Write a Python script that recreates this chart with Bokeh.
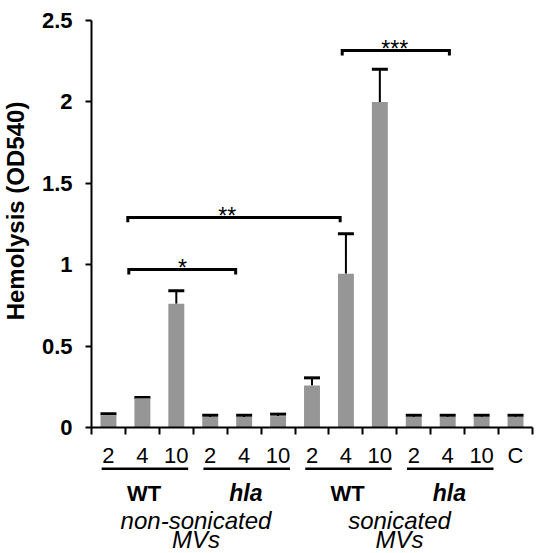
import math
from bokeh.plotting import figure
from bokeh.models import Range1d, LinearAxis, FixedTicker, Whisker, TeeHead, ColumnDataSource
from bokeh.core.properties import value
from bokeh.embed import file_html
from bokeh.resources import INLINE

# ---------------- data ----------------
dose_labels = ["2", "4", "10", "2", "4", "10", "2", "4", "10", "2", "4", "10", "C"]
hemolysis = [0.075, 0.18, 0.76, 0.065, 0.065, 0.07, 0.258, 0.945, 2.0, 0.065, 0.065, 0.065, 0.065]
error = [0.01, 0.005, 0.08, 0.01, 0.01, 0.012, 0.047, 0.245, 0.2, 0.01, 0.01, 0.01, 0.01]
y_ticks = [0, 0.5, 1, 1.5, 2, 2.5]
y_tick_labels = ["0", "0.5", "1", "1.5", "2", "2.5"]
y_title = "Hemolysis (OD540)"
group_names = ["WT", "hla", "WT", "hla"]
group_first = [0, 3, 6, 9]
group_last = [2, 5, 8, 11]
treatment_names = ["non-sonicated", "sonicated"]
treatment_first = [0, 6]
treatment_last = [5, 11]
sig_x0 = [1.1, 1.07, 7.39]
sig_x1 = [4.25, 7.33, 10.55]
sig_y = [0.97, 1.29, 2.315]
sig_label_x = [2.68, 4.0, 8.94]
sig_text = ["*", "**", "***"]

FONT = "Liberation Sans"
BAR = "#969696"
W, H = 542, 553
LEFT, TOP, FRAME_W = 91, 20, 441       # pixel position of the plotting area
PX_PER_UNIT = 162.8                    # pixels per y unit
n = len(hemolysis)
PX_PER_CAT = FRAME_W / n
X0 = -LEFT / PX_PER_CAT
X1 = n + (W - LEFT - FRAME_W) / PX_PER_CAT
Y1 = 2.5 + TOP / PX_PER_UNIT
Y0 = Y1 - H / PX_PER_UNIT

xs = [i + 0.5 for i in range(n)]
src = ColumnDataSource(dict(x=xs, top=hemolysis, upper=[h + e for h, e in zip(hemolysis, error)]))

p = figure(width=W, height=H, x_range=Range1d(X0, X1), y_range=Range1d(Y0, Y1),
           output_backend="svg", toolbar_location=None,
           x_axis_location=None, y_axis_location=None,
           min_border_left=0, min_border_right=0, min_border_top=0, min_border_bottom=0)
p.outline_line_color = None
p.grid.visible = False

# y axis (drawn at x = 0)
yaxis = LinearAxis(fixed_location=0, bounds=(0, 2.5), ticker=FixedTicker(ticks=y_ticks),
                   major_label_overrides={t: l for t, l in zip(y_ticks, y_tick_labels)},
                   major_label_text_font=FONT, major_label_text_font_style="bold",
                   major_label_text_font_size="22px", major_label_standoff=13,
                   major_label_text_color="black",
                   major_tick_out=6, major_tick_in=0, minor_tick_line_color=None,
                   axis_line_width=2, major_tick_line_width=2)
p.add_layout(yaxis, "left")
p.text(x=[-(LEFT - 15) / PX_PER_CAT], y=[1.33], text=[y_title], angle=math.pi / 2,
       text_align="center", text_baseline="middle", text_font=value(FONT),
       text_font_style="bold", text_font_size="24px", text_color="black")

# x axis: boundary ticks (drawn at y = 0)
xaxis_ticks = LinearAxis(fixed_location=0, bounds=(0, n), ticker=FixedTicker(ticks=list(range(n + 1))),
                         major_tick_out=7, major_tick_in=0, minor_tick_line_color=None,
                         major_label_text_color=None, axis_line_width=2, major_tick_line_width=2)
p.add_layout(xaxis_ticks, "below")
# x axis: category labels
xaxis_labels = LinearAxis(fixed_location=0, bounds=(0, n), ticker=FixedTicker(ticks=xs),
                          major_label_overrides={x: l for x, l in zip(xs, dose_labels)},
                          major_tick_out=0, major_tick_in=0, minor_tick_line_color=None,
                          axis_line_color=None, major_label_standoff=15,
                          major_label_text_font=FONT, major_label_text_font_size="22px",
                          major_label_text_color="black")
p.add_layout(xaxis_labels, "below")

# bars and error bars
p.vbar(x="x", top="top", width=0.47, source=src, fill_color=BAR, line_color=None)
p.add_layout(Whisker(base="x", lower="top", upper="upper", source=src, dimension="height",
                     line_width=2, line_color="black", lower_head=None,
                     upper_head=TeeHead(size=16, line_width=3, line_color="black")))

# significance brackets
d = 0.03
p.multi_line(xs=[[a, a, b, b] for a, b in zip(sig_x0, sig_x1)],
             ys=[[y - d, y, y, y - d] for y in sig_y],
             line_width=3, line_color="black", line_join="miter")
p.text(x=sig_label_x, y=[y + 0.012 for y in sig_y], text=sig_text,
       text_align="center", text_baseline="alphabetic", text_font=value(FONT),
       text_font_size="23px", text_color="black")

# group annotations below axis
p.segment(x0=[f + 0.3 for f in group_first], x1=[l + 0.85 for l in group_last],
          y0=[-0.254] * 4, y1=[-0.254] * 4, line_width=2.5, line_color="black")
wt_idx = [i for i, g in enumerate(group_names) if g == "WT"]
hla_idx = [i for i, g in enumerate(group_names) if g != "WT"]
p.text(x=[(group_first[i] + group_last[i]) / 2 + 0.55 for i in wt_idx], y=[-0.405] * len(wt_idx),
       text=[group_names[i] for i in wt_idx], text_align="center", text_baseline="alphabetic",
       text_font=value(FONT), text_font_style="bold", text_font_size="22px", text_color="black")
p.text(x=[(group_first[i] + group_last[i]) / 2 + 0.55 for i in hla_idx], y=[-0.405] * len(hla_idx),
       text=[group_names[i] for i in hla_idx], text_align="center", text_baseline="alphabetic",
       text_font=value(FONT), text_font_style="bold italic", text_font_size="23px", text_color="black")
tx = [(f + l) / 2 + 0.58 for f, l in zip(treatment_first, treatment_last)]
p.text(x=tx, y=[-0.57] * 2, text=treatment_names, text_align="center", text_baseline="alphabetic",
       text_font=value(FONT), text_font_style="italic", text_font_size="24px", text_color="black")
p.text(x=tx, y=[-0.69] * 2, text=["MVs", "MVs"], text_align="center", text_baseline="alphabetic",
       text_font=value(FONT), text_font_style="italic", text_font_size="24px", text_color="black")

open("out.html", "w").write(file_html(p, INLINE))
